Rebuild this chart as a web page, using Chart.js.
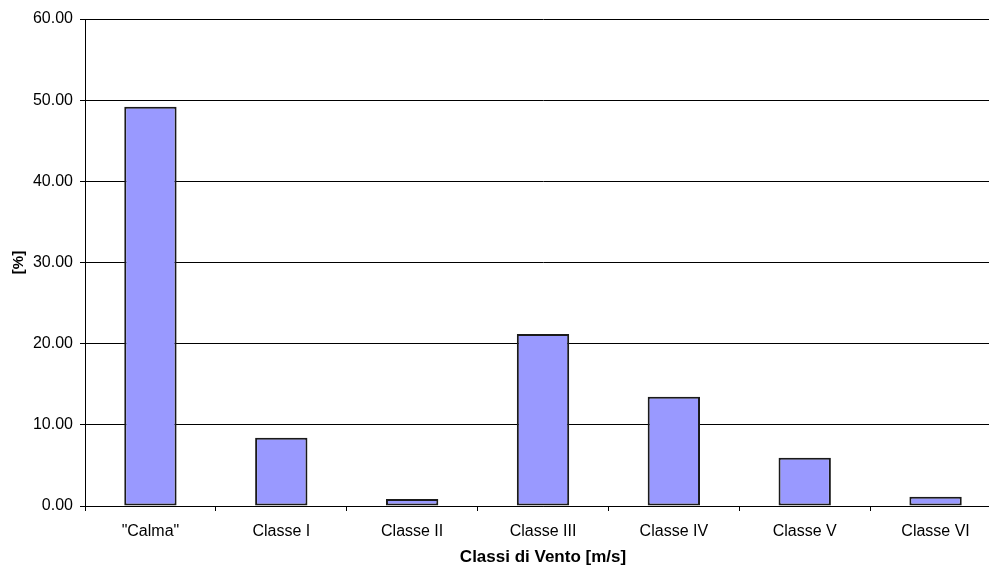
<!DOCTYPE html>
<html>
<head>
<meta charset="utf-8">
<script src="https://cdn.jsdelivr.net/npm/chart.js@4"></script>
<style>
    html, body { margin: 0; padding: 0; background: #fff; overflow: hidden; }
    #wrap { width: 989px; height: 567px; position: relative; overflow: hidden; }
</style>
</head>
<body>
<div id="wrap"><canvas id="chart" width="1001" height="567"></canvas></div>
<script>
// Data
const categories = ['"Calma"', 'Classe I', 'Classe II', 'Classe III', 'Classe IV', 'Classe V', 'Classe VI'];
const percentValues = [49.2, 8.4, 0.86, 21.2, 13.45, 5.95, 1.15];
const yTicks = [0, 10, 20, 30, 40, 50, 60];

const xTitle = 'Classi di Vento [m/s]';
const yTitle = '[%]';

const ctx = document.getElementById('chart').getContext('2d');
Chart.defaults.font.family = '"Liberation Sans", Arial, sans-serif';
Chart.defaults.color = '#000';

// canvas is a little wider than the page: the original is cropped on the right
new Chart(ctx, {
    type: 'bar',
    data: {
        labels: categories,
        datasets: [{
            data: percentValues,
            backgroundColor: '#9999ff',
            borderColor: '#1a1a1a',
            borderWidth: 2,
            borderSkipped: false,
            barPercentage: 0.40,
            categoryPercentage: 1
        }]
    },
    options: {
        responsive: false,
        animation: false,
        layout: { padding: { top: 19, right: 0, left: 0, bottom: -3 } },
        plugins: {
            legend: { display: false },
            tooltip: { enabled: false }
        },
        scales: {
            x: {
                grid: {
                    display: true,
                    drawOnChartArea: false,
                    offset: true,
                    color: '#000',
                    tickLength: 5
                },
                border: { color: '#000', width: 1 },
                ticks: { font: { size: 16 }, padding: 11, maxRotation: 0 },
                title: {
                    display: true,
                    text: xTitle,
                    font: { size: 17, weight: 'bold' },
                    padding: { top: 0, bottom: 2 }
                },
                afterFit: function(scale) { scale.height = 64; }
            },
            y: {
                min: 0,
                max: 60,
                afterBuildTicks: function(scale) {
                    scale.ticks = yTicks.map(v => ({ value: v }));
                },
                grid: { color: '#000', tickLength: 5, lineWidth: 1 },
                border: { color: '#000', width: 1 },
                ticks: {
                    font: { size: 16 },
                    padding: 7,
                    callback: function(value) { return value.toFixed(2); }
                },
                title: {
                    display: true,
                    text: yTitle,
                    font: { size: 15, weight: 'bold' },
                    padding: { top: 10, bottom: 0 }
                },
                afterFit: function(scale) { scale.width = 85; }
            }
        }
    }
});
</script>
</body>
</html>
